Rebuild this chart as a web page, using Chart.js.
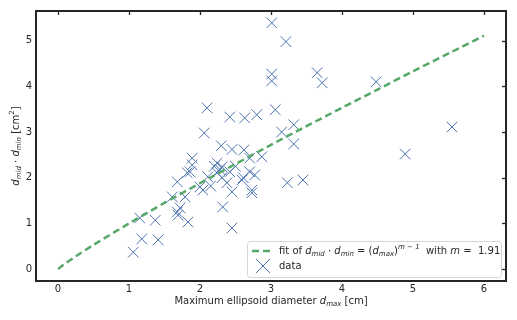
<!DOCTYPE html>
<html>
<head>
<meta charset="utf-8">
<script src="https://cdn.jsdelivr.net/npm/chart.js@4.4.1/dist/chart.umd.min.js"></script>
<style>
  html, body { margin: 0; padding: 0; background: #fff; }
  #wrap { width: 517px; height: 320px; }
</style>
</head>
<body>
<div id="wrap"><canvas id="chart" width="517" height="320"></canvas></div>
<script>
// data
const dataX = [1.06, 1.18, 1.41, 1.15, 1.37, 1.83, 1.68, 1.72, 1.69, 1.61,
  1.79, 1.68, 1.86, 1.89, 1.89, 2.00, 1.82, 2.11, 2.24, 2.31,
  2.24, 2.31, 2.42, 2.28, 2.20, 2.04, 2.32, 2.38, 2.45, 2.61,
  2.73, 2.77, 2.45, 2.10, 2.06, 2.42, 2.63, 2.80, 3.06, 3.15,
  3.32, 3.32, 2.62, 2.70, 2.87, 2.70, 3.23, 3.45, 2.59, 2.73,
  3.01, 3.21, 3.01, 3.01, 3.65, 3.72, 4.48, 5.55, 4.89, 2.30,
  2.45, 2.50, 2.15];
const dataY = [0.37, 0.66, 0.64, 1.12, 1.07, 1.03, 1.25, 1.34, 1.18, 1.58,
  1.58, 1.91, 2.13, 2.28, 2.43, 1.80, 2.11, 2.02, 2.32, 2.24,
  2.11, 2.00, 2.13, 2.18, 2.25, 1.73, 1.36, 1.89, 1.69, 2.00,
  1.73, 2.06, 0.90, 3.53, 2.98, 3.33, 3.31, 3.38, 3.49, 3.00,
  3.16, 2.74, 2.61, 2.43, 2.46, 2.13, 1.89, 1.95, 1.95, 1.67,
  5.39, 4.98, 4.27, 4.12, 4.30, 4.08, 4.10, 3.11, 2.52, 2.70,
  2.62, 2.25, 1.82];

// fitted curve, m = 1.91
const fitX = [0, 0.1, 0.25, 0.5, 1, 1.5, 2, 2.5, 3, 3.5, 4, 4.5, 5, 5.5, 6];
const fitY = [0, 0.12, 0.28, 0.53, 1.00, 1.45, 1.88, 2.30, 2.72, 3.13, 3.53, 3.93, 4.33, 4.72, 5.11];

const xTicks = [0, 1, 2, 3, 4, 5, 6];
const yTicks = [0, 1, 2, 3, 4, 5];

const blue = '#4C72B0';
const green = '#55A868';
const ink = '#262626';
const FONT = '"DejaVu Sans", sans-serif';

// draw a run of text pieces: {t, it (italic), sub, sup}
function richWidth(ctx, parts, size) {
  let w = 0;
  parts.forEach(p => {
    const s = (p.sub || p.sup) ? size * 0.7 : size;
    ctx.font = (p.it ? 'italic ' : '') + s + 'px ' + FONT;
    w += ctx.measureText(p.t).width;
  });
  return w;
}
function richText(ctx, parts, x, y, size) {
  ctx.textBaseline = 'middle';
  ctx.textAlign = 'left';
  parts.forEach(p => {
    const s = (p.sub || p.sup) ? size * 0.7 : size;
    ctx.font = (p.it ? 'italic ' : '') + s + 'px ' + FONT;
    let dy = 0;
    if (p.sub) dy = size * 0.3;
    if (p.sup) dy = -size * 0.4;
    ctx.fillText(p.t, x, y + dy);
    x += ctx.measureText(p.t).width;
  });
}

const xTitle = [
  { t: 'Maximum ellipsoid diameter ' }, { t: 'd', it: true }, { t: 'max', it: true, sub: true }, { t: ' [cm]' }
];
const yTitle = [
  { t: 'd', it: true }, { t: 'mid', it: true, sub: true }, { t: ' · ' },
  { t: 'd', it: true }, { t: 'min', it: true, sub: true }, { t: ' [cm' }, { t: '2', sup: true }, { t: ']' }
];
const fitLabel = [
  { t: 'fit of ' }, { t: 'd', it: true }, { t: 'mid', it: true, sub: true }, { t: ' · ' },
  { t: 'd', it: true }, { t: 'min', it: true, sub: true }, { t: ' = (' },
  { t: 'd', it: true }, { t: 'max', it: true, sub: true }, { t: ')' },
  { t: 'm − 1', it: true, sup: true }, { t: '  with ' }, { t: 'm', it: true }, { t: ' =  1.91' }
];
const dataLabel = [{ t: 'data' }];

const decor = {
  id: 'decor',
  afterDraw(chart) {
    const ctx = chart.ctx;
    const a = chart.chartArea;
    const xs = chart.scales.x, ys = chart.scales.y;
    ctx.save();
    // inward ticks on top and right
    ctx.strokeStyle = ink;
    ctx.lineWidth = 1.3;
    xTicks.forEach(v => {
      const px = Math.round(xs.getPixelForValue(v)) + 0.5;
      ctx.beginPath(); ctx.moveTo(px, a.top); ctx.lineTo(px, a.top + 4); ctx.stroke();
    });
    yTicks.forEach(v => {
      const py = Math.round(ys.getPixelForValue(v)) + 0.5;
      ctx.beginPath(); ctx.moveTo(a.right, py); ctx.lineTo(a.right - 4, py); ctx.stroke();
    });
    // frame
    ctx.lineWidth = 2;
    ctx.strokeRect(a.left, a.top, a.right - a.left, a.bottom - a.top);

    // axis titles
    ctx.fillStyle = ink;
    const size = 10;
    const wx = richWidth(ctx, xTitle, size);
    richText(ctx, xTitle, (a.left + a.right) / 2 - wx / 2, 301, size);
    const wy = richWidth(ctx, yTitle, size);
    ctx.translate(16, (a.top + a.bottom) / 2);
    ctx.rotate(-Math.PI / 2);
    richText(ctx, yTitle, -wy / 2, 0, size);
    ctx.restore();

    // legend
    ctx.save();
    const lx = 247, ly = 241, lw = 254, lh = 36;
    ctx.fillStyle = 'rgba(255,255,255,0.85)';
    ctx.strokeStyle = '#d5d5d5';
    ctx.lineWidth = 1;
    ctx.beginPath();
    ctx.roundRect(lx + 0.5, ly + 0.5, lw, lh, 3);
    ctx.fill(); ctx.stroke();
    // line sample
    ctx.strokeStyle = green;
    ctx.lineWidth = 2.5;
    ctx.setLineDash([7, 4]);
    ctx.beginPath(); ctx.moveTo(252, 251); ctx.lineTo(274, 251); ctx.stroke();
    ctx.setLineDash([]);
    // marker sample
    ctx.strokeStyle = blue;
    ctx.lineWidth = 1;
    const mx = 263, my = 266, r = 7;
    ctx.beginPath();
    ctx.moveTo(mx - r, my - r); ctx.lineTo(mx + r, my + r);
    ctx.moveTo(mx + r, my - r); ctx.lineTo(mx - r, my + r);
    ctx.stroke();
    ctx.fillStyle = ink;
    richText(ctx, fitLabel, 279, 251, size);
    richText(ctx, dataLabel, 279, 266, size);
    ctx.restore();
  }
};

new Chart(document.getElementById('chart').getContext('2d'), {
  type: 'scatter',
  data: {
    datasets: [{
      label: 'fit',
      data: fitX.map((x, i) => ({ x: x, y: fitY[i] })),
      showLine: true,
      borderColor: green,
      borderWidth: 2.5,
      borderDash: [7, 4],
      pointRadius: 0,
      tension: 0.3,
      order: 1
    }, {
      label: 'data',
      data: dataX.map((x, i) => ({ x: x, y: dataY[i] })),
      pointStyle: 'crossRot',
      pointRadius: 7.5,
      borderColor: blue,
      backgroundColor: blue,
      borderWidth: 1,
      order: 2
    }]
  },
  options: {
    responsive: false,
    animation: false,
    layout: { padding: { top: 11, right: 11, left: 0, bottom: 0 } },
    plugins: { legend: { display: false }, tooltip: { enabled: false } },
    scales: {
      x: {
        type: 'linear',
        min: -0.31, max: 6.31,
        afterBuildTicks: s => { s.ticks = xTicks.map(v => ({ value: v })); },
        afterFit: s => { s.height = 39; },
        grid: { display: false, drawTicks: false, tickLength: 0 },
        border: { display: false },
        ticks: { color: ink, font: { family: FONT, size: 10 }, padding: 2 }
      },
      y: {
        type: 'linear',
        min: -0.26, max: 5.65,
        afterBuildTicks: s => { s.ticks = yTicks.map(v => ({ value: v })); },
        afterFit: s => { s.width = 36; },
        grid: { display: false, drawTicks: false, tickLength: 0 },
        border: { display: false },
        ticks: { color: ink, font: { family: FONT, size: 10 }, padding: 4 }
      }
    }
  },
  plugins: [decor]
});
</script>
</body>
</html>
